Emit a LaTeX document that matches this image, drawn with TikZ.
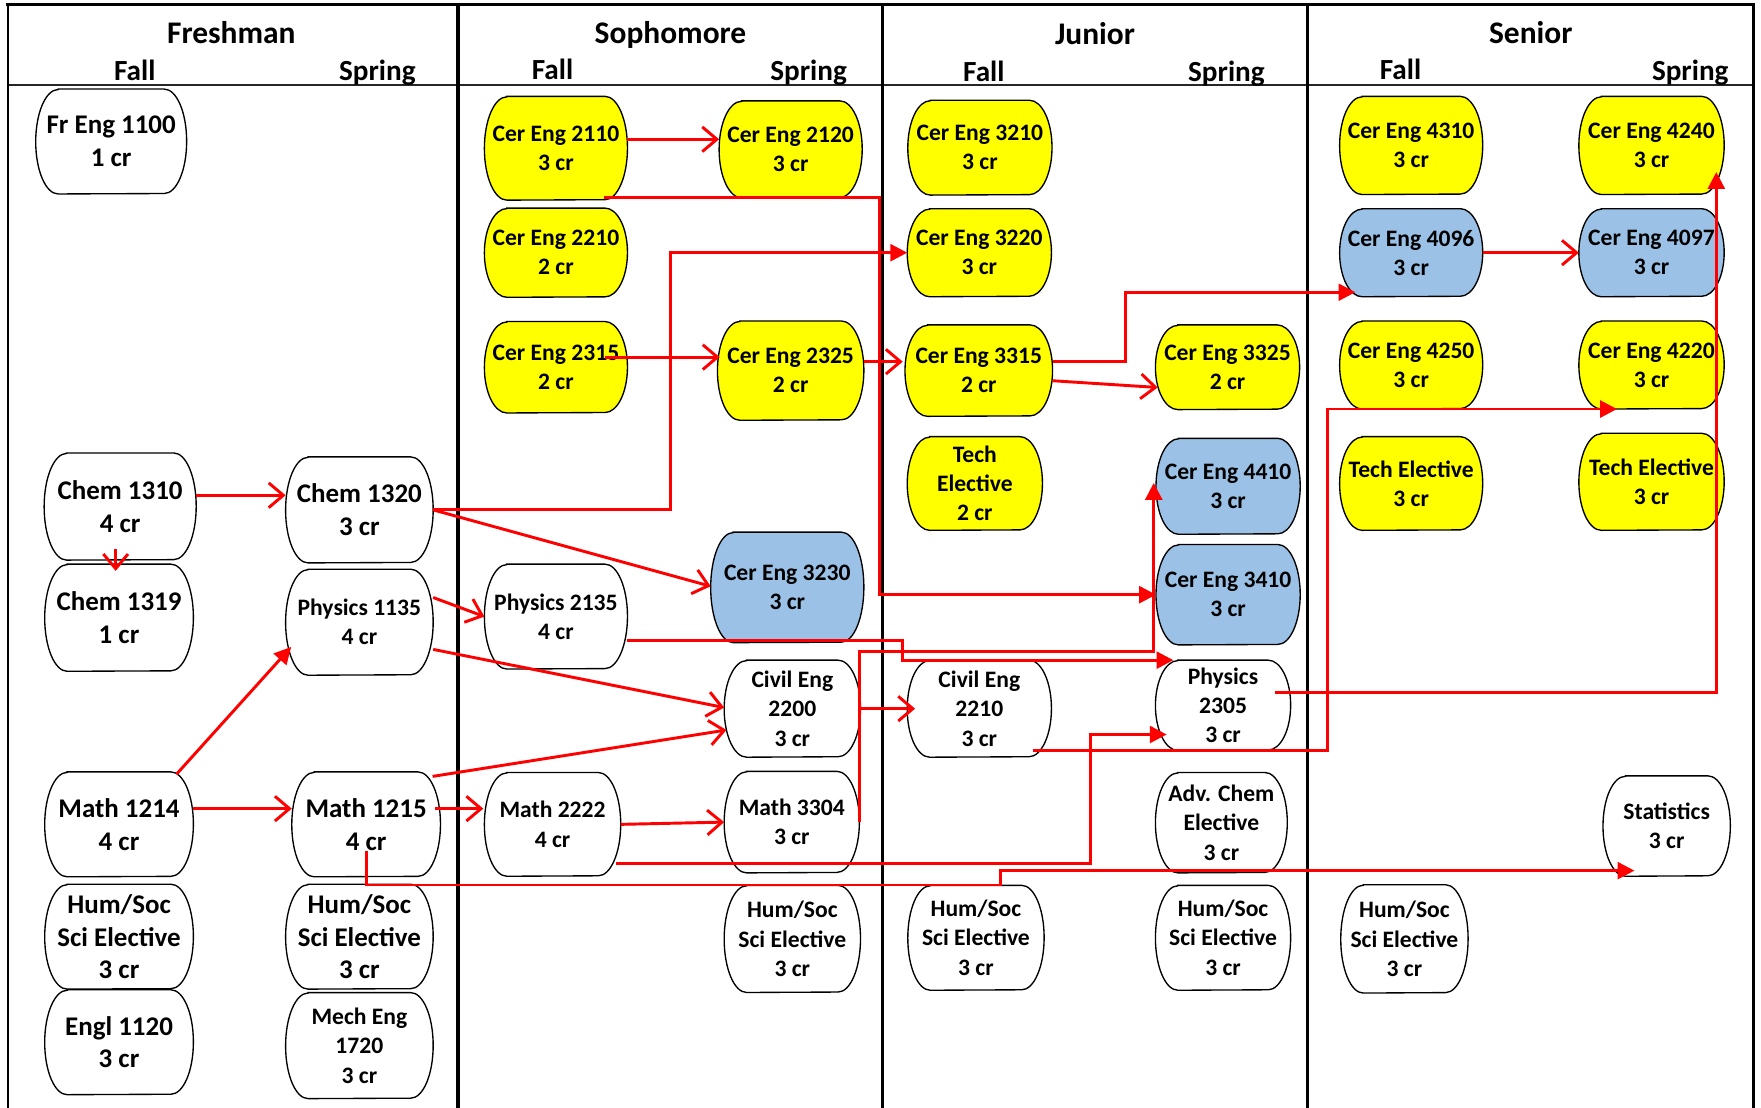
\documentclass[tikz,border=0pt]{standalone}
\usepackage{fontspec}
\setmainfont{Carlito}
\usetikzlibrary{arrows.meta,calc}
\pgfdeclarelayer{background}
\pgfsetlayers{background,main}
\definecolor{yel}{RGB}{255,255,0}
\definecolor{blu}{RGB}{155,194,230}
\definecolor{redl}{RGB}{255,0,0}
% #1 name, #2 x, #3 y, #4 width, #5 height, #6 fill, #7 font style, #8 text
\newcommand\crsnode[8]{%
  \node[crstext,#7,minimum width=#4pt,minimum height=#5pt] (#1) at (#2,#3) {#8};
  \pgfmathsetmacro\crhh{#5/2}%
  \begin{pgfonlayer}{background}
    \draw[crsline,fill=#6] ([xshift=20pt]#1.north west) -- ([xshift=-20pt]#1.north east)
      arc[start angle=90,end angle=-90,x radius=20pt,y radius=\crhh pt]
      -- ([xshift=20pt]#1.south west)
      arc[start angle=270,end angle=90,x radius=20pt,y radius=\crhh pt] -- cycle;
  \end{pgfonlayer}%
}
\begin{document}
\begin{tikzpicture}[x=1pt,y=-1pt,
  crstext/.style={inner sep=0pt,align=center,text=black},
  fs/.style={font=\fontsize{21pt}{26pt}\selectfont\bfseries},
  fl/.style={font=\fontsize{24pt}{29pt}\selectfont\bfseries},
  crsline/.style={draw=black,line width=1.2pt},
  yr/.style={anchor=base,font=\fontsize{28pt}{32pt}\selectfont\bfseries},
  sem/.style={anchor=base,font=\fontsize{26pt}{30pt}\selectfont\bfseries},
  conn/.style={draw=redl,line width=2.6pt},
  oa/.style={conn,-{Straight Barb[length=13pt,width=22pt]}},
  fa/.style={conn,-{Triangle[length=15pt,width=15pt]}}]
\useasboundingbox (0,0) rectangle (1568,985.7);
% frame
\draw[line width=3.5pt] (5,4) -- (1563,4);
\draw[line width=2pt,black!85] (7,76) -- (1561,76);
\draw[line width=2.4pt] (7,3) -- (7,990);
\draw[line width=4pt] (408,3) -- (408,990);
\draw[line width=2.8pt] (786,3) -- (786,990);
\draw[line width=2.8pt] (1164,3) -- (1164,990);
\draw[line width=2.8pt] (1561,3) -- (1561,990);
% headers
\node[yr] (hfr) at (206,39) {Freshman};
\node[sem] (hfrf) at (120,72) {Fall};
\node[sem] (hfrs) at (336,72) {Spring};
\node[yr] (hso) at (597,39) {Sophomore};
\node[sem] (hsof) at (492,71) {Fall};
\node[sem] (hsos) at (720,72) {Spring};
\node[yr] (hju) at (975,40) {Junior};
\node[sem] (hjuf) at (876,73) {Fall};
\node[sem] (hjus) at (1092,73) {Spring};
\node[yr] (hse) at (1363,39) {Senior};
\node[sem] (hsef) at (1247,71) {Fall};
\node[sem] (hses) at (1505,72) {Spring};
% Freshman
\crsnode{freng}{99}{126}{134}{93}{white}{fl}{Fr Eng 1100\\1 cr}
\crsnode{chemA}{107}{451}{135}{95}{white}{fl}{Chem 1310\\4 cr}
\crsnode{chemB}{106}{550}{132}{95}{white}{fl}{Chem 1319\\1 cr}
\crsnode{mathA}{106}{734}{132}{93}{white}{fl}{Math 1214\\4 cr}
\crsnode{humA}{106}{834}{132}{93}{white}{fl}{Hum/Soc\\Sci Elective\\3 cr}
\crsnode{engl}{106}{928}{132}{93}{white}{fl}{Engl 1120\\3 cr}
\crsnode{chemC}{320}{454}{131}{94}{white}{fl}{Chem 1320\\3 cr}
\crsnode{physA}{320}{554}{131}{94}{white}{fs}{Physics 1135\\4 cr}
\crsnode{mathB}{326}{734}{132}{93}{white}{fl}{Math 1215\\4 cr}
\crsnode{humB}{320}{834}{131}{93}{white}{fl}{Hum/Soc\\Sci Elective\\3 cr}
\crsnode{mech}{320}{931}{131}{94}{white}{fs}{Mech Eng\\1720\\3 cr}
% Sophomore
\crsnode{ceA}{495}{132}{127}{92}{yel}{fs}{Cer Eng 2110\\3 cr}
\crsnode{ceB}{495}{225}{127}{79}{yel}{fs}{Cer Eng 2210\\2 cr}
\crsnode{ceC}{495}{327}{127}{81}{yel}{fs}{Cer Eng 2315\\2 cr}
\crsnode{physB}{495}{549}{127}{93}{white}{fs}{Physics 2135\\4 cr}
\crsnode{mathC}{492}{734}{121}{92}{white}{fs}{Math 2222\\4 cr}
\crsnode{ceD}{704}{133}{127}{86}{yel}{fs}{Cer Eng 2120\\3 cr}
\crsnode{ceE}{704}{330}{130}{88}{yel}{fs}{Cer Eng 2325\\2 cr}
\crsnode{ceF}{701}{523}{136}{98}{blu}{fs}{Cer Eng 3230\\3 cr}
\crsnode{civA}{705.5}{631}{121}{86}{white}{fs}{Civil Eng\\2200\\3 cr}
\crsnode{mathD}{705}{732}{120}{90}{white}{fs}{Math 3304\\3 cr}
\crsnode{humC}{705.5}{836}{121}{95}{white}{fs}{Hum/Soc\\Sci Elective\\3 cr}
% Junior
\crsnode{ceG}{872.5}{131.5}{128}{84}{yel}{fs}{Cer Eng 3210\\3 cr}
\crsnode{ceH}{872}{225}{128}{78}{yel}{fs}{Cer Eng 3220\\3 cr}
\crsnode{ceI}{871.5}{330}{131}{81}{yel}{fs}{Cer Eng 3315\\2 cr}
\crsnode{techA}{868}{430.5}{120}{83}{yel}{fs}{Tech\\Elective\\2 cr}
\crsnode{civB}{872}{631}{128}{86}{white}{fs}{Civil Eng\\2210\\3 cr}
\crsnode{humD}{869}{835}{121}{93}{white}{fs}{Hum/Soc\\Sci Elective\\3 cr}
\crsnode{ceJ}{1093}{327}{128}{75}{yel}{fs}{Cer Eng 3325\\2 cr}
\crsnode{ceK}{1093.5}{433}{128}{85}{blu}{fs}{Cer Eng 4410\\3 cr}
\crsnode{ceL}{1093.5}{529.5}{128}{89}{blu}{fs}{Cer Eng 3410\\3 cr}
\crsnode{physC}{1089}{628}{120}{80}{white}{fs}{Physics\\2305\\3 cr}
\crsnode{advc}{1087.5}{732.5}{117}{89}{white}{fs}{Adv. Chem\\Elective\\3 cr}
\crsnode{humE}{1089}{835}{120}{93}{white}{fs}{Hum/Soc\\Sci Elective\\3 cr}
% Senior
\crsnode{ceM}{1256.5}{129.5}{127}{87}{yel}{fs}{Cer Eng 4310\\3 cr}
\crsnode{ceN}{1256.5}{225}{127}{78}{blu}{fs}{Cer Eng 4096\\3 cr}
\crsnode{ceO}{1256.5}{325}{127}{78}{yel}{fs}{Cer Eng 4250\\3 cr}
\crsnode{techB}{1256.5}{430.5}{127}{83}{yel}{fs}{Tech Elective\\3 cr}
\crsnode{humF}{1250.5}{836}{113}{96}{white}{fs}{Hum/Soc\\Sci Elective\\3 cr}
\crsnode{ceP}{1470.5}{129.5}{129}{87}{yel}{fs}{Cer Eng 4240\\3 cr}
\crsnode{ceQ}{1470.5}{225}{129}{78}{blu}{fs}{Cer Eng 4097\\3 cr}
\crsnode{ceR}{1470.5}{325}{129}{78}{yel}{fs}{Cer Eng 4220\\3 cr}
\crsnode{techC}{1470.5}{429}{129}{86}{yel}{fs}{Tech Elective\\3 cr}
\crsnode{stat}{1484}{735.5}{113}{89}{white}{fs}{Statistics\\3 cr}
% connectors
\draw[oa] ($(chemA.east)+(0,-10)$) -- ($(chemC.west)+(0,-13)$);
\draw[oa] ($(chemA.south)+(-4,-10)$) -- ($(chemB.north)+(-3,6)$);
\draw[fa] ($(mathA.north east)+(-15,2)$) -- ($(physA.west)+(5,22)$);
\draw[oa] ($(mathA.east)+(0,-14)$) -- ($(mathB.west)+(0,-14)$);
\draw[oa] ($(mathB.east)+(-5,-14)$) -- ($(mathC.west)+(-1,-14)$);
\draw[oa] ($(physA.east)+(0,-22)$) -- (physB.west);
\draw[oa] (chemC.east) -- ($(ceF.west)+(0,-1)$);
\draw[fa] (chemC.east) -- ++(211.5,0) |- (ceH.west);
\draw[oa] ($(physA.south east)+(0,-23)$) -- ($(civA.west)+(0,-1)$);
\draw[oa] ($(mathB.north east)+(-7,4)$) -- ($(civA.west)+(2,19)$);
\draw[oa] (mathC.east) -- (mathD.west);
\draw[oa] ($(ceA.east)+(0,-8)$) -- ($(ceD.west)+(0,-9)$);
\draw[oa] ($(ceC.east)+(-20,-9)$) -- ($(ceE.west)+(2,-12)$);
\draw[oa] ($(ceE.east)+(0,-8)$) -- ($(ceI.west)+(-2,-8)$);
\draw[fa] ($(ceA.south)+(43,-2)$) -- ++(245,0) |- (ceL.west);
\draw[oa] ($(ceI.east)+(0,9)$) -- ($(ceJ.west)+(2,18)$);
\draw[fa] ($(ceI.east)+(0,-8)$) -- ++(65,0) |- ($(ceN.south west)+(14,-4)$);
\draw[oa] (ceN.east) -- (ceQ.west);
\draw[fa] ($(physB.south east)+(0,-25)$) -- ++(244.5,0) |- ($(physC.north west)+(16,0)$);
\draw[fa] (mathD.east) |- ($(ceK.west)+(-2,147)$) -- ($(ceK.west)+(-2,-3)$);
\draw[oa] (civA.east) -- ($(civB.west)+(7,0)$);
\draw[fa] ($(civB.south east)+(-16,-6)$) -- ++(262,0) |- ($(ceR.south west)+(34,0)$);
\draw[fa] ($(physC.east)+(-14,-11)$) -| ($(ceP.south east)+(-7,-20)$);
\draw[fa] ($(mathC.south east)+(-4,-11)$) -- ++(422.5,0) |- ($(physC.west)+(10,26)$);
\draw[fa] ($(mathB.south)+(0,-23)$) |- (891,788) |- ($(stat.south west)+(28,-5)$);
\end{tikzpicture}
\end{document}
